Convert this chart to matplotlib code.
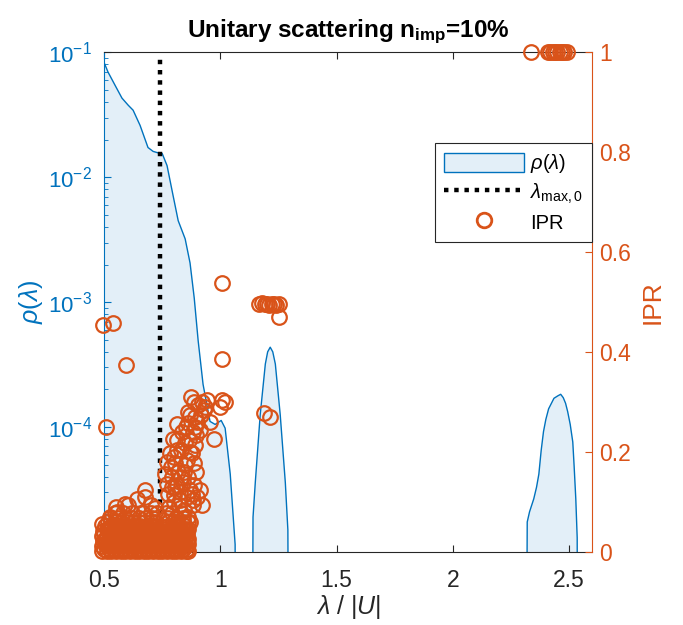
import numpy as np
import matplotlib
matplotlib.use('Agg')
from matplotlib import pyplot as plt
from matplotlib.patches import Patch
from matplotlib.lines import Line2D
from matplotlib.ticker import LogLocator, NullFormatter

# densidade de estados rho(lambda) (0 = fora da banda)
lam = [0.5, 0.516, 0.546, 0.576, 0.603, 0.624, 0.654, 0.688, 0.71, 0.73, 0.749,
       0.77, 0.796, 0.818, 0.848, 0.869, 0.887, 0.904, 0.925, 0.955, 0.977, 1.003,
       1.02, 1.042, 1.063, 1.068,
       1.131, 1.14, 1.15, 1.171, 1.193, 1.203, 1.214, 1.225, 1.236, 1.257, 1.279, 1.29, 1.30,
       2.309, 2.32, 2.33, 2.348, 2.36, 2.37, 2.38, 2.39, 2.40, 2.412, 2.435, 2.452, 2.464,
       2.475, 2.485, 2.494, 2.505, 2.516, 2.522, 2.529, 2.535, 2.54,
       2.6]
rho = [0.082, 0.0695, 0.0546, 0.043, 0.0377, 0.0344, 0.026, 0.0173, 0.0161, 0.0157, 0.0155,
       0.0124, 0.00713, 0.00449, 0.00321, 0.00206, 0.00108, 4.9e-4, 2.2e-4, 1.11e-4, 1.05e-4, 1.13e-4,
       9.8e-5, 4.2e-5, 1.15e-5, 0,
       0, 1.9e-5, 3.65e-5, 1.26e-4, 3.2e-4, 4.0e-4, 4.36e-4, 4.0e-4, 3.2e-4, 1.26e-4, 3.6e-5, 1.5e-5, 0,
       0, 1.74e-5, 2.1e-5, 2.66e-5, 3.3e-5, 4.2e-5, 6.5e-5, 9.2e-5, 1.15e-4, 1.4e-4, 1.7e-4, 1.78e-4, 1.83e-4,
       1.72e-4, 1.55e-4, 1.33e-4, 1.05e-4, 7.6e-5, 4.8e-5, 2.66e-5, 1.3e-5, 0,
       0]

lam_max0 = 0.741

# IPR: faixa densa perto de zero (uma linha de IPR por lista de lambdas)
bulk_ipr = [0.002, 0.007, 0.012, 0.017, 0.022, 0.027, 0.032, 0.037, 0.042, 0.047,
            0.053, 0.060, 0.068, 0.078]
bulk_lam = [
    [0.49, 0.51, 0.53, 0.55, 0.57, 0.59, 0.61, 0.63, 0.65, 0.67, 0.69, 0.71, 0.73, 0.75, 0.77, 0.79, 0.81, 0.83, 0.85, 0.862],
    [0.50, 0.52, 0.54, 0.56, 0.58, 0.60, 0.62, 0.64, 0.66, 0.68, 0.70, 0.72, 0.74, 0.76, 0.78, 0.80, 0.82, 0.84, 0.858],
    [0.492, 0.512, 0.532, 0.552, 0.571, 0.592, 0.611, 0.631, 0.652, 0.671, 0.692, 0.712, 0.731, 0.752, 0.771, 0.791, 0.812, 0.832, 0.851],
    [0.502, 0.522, 0.541, 0.562, 0.582, 0.601, 0.622, 0.641, 0.662, 0.681, 0.702, 0.721, 0.742, 0.761, 0.782, 0.802, 0.821, 0.842, 0.86],
    [0.495, 0.515, 0.535, 0.556, 0.575, 0.595, 0.615, 0.636, 0.655, 0.675, 0.696, 0.716, 0.735, 0.756, 0.776, 0.795, 0.816, 0.836, 0.855],
    [0.505, 0.526, 0.546, 0.565, 0.586, 0.606, 0.625, 0.646, 0.666, 0.686, 0.705, 0.726, 0.745, 0.766, 0.786, 0.806, 0.826, 0.846, 0.862],
    [0.49, 0.51, 0.531, 0.55, 0.57, 0.591, 0.61, 0.63, 0.651, 0.67, 0.69, 0.711, 0.73, 0.751, 0.77, 0.79, 0.811, 0.83, 0.85],
    [0.50, 0.521, 0.54, 0.56, 0.581, 0.60, 0.62, 0.641, 0.66, 0.68, 0.701, 0.72, 0.76, 0.781, 0.80, 0.82, 0.841, 0.858],
    [0.495, 0.515, 0.536, 0.555, 0.575, 0.596, 0.615, 0.635, 0.656, 0.675, 0.695, 0.716, 0.735, 0.771, 0.79, 0.81, 0.831, 0.85],
    [0.51, 0.53, 0.55, 0.57, 0.59, 0.61, 0.63, 0.65, 0.67, 0.69, 0.71, 0.725, 0.765, 0.785, 0.805, 0.825, 0.845, 0.862],
    [0.505, 0.53, 0.555, 0.58, 0.605, 0.63, 0.655, 0.68, 0.70, 0.72, 0.775, 0.80, 0.822, 0.847],
    [0.515, 0.545, 0.57, 0.60, 0.625, 0.65, 0.675, 0.70, 0.718, 0.772, 0.795, 0.815, 0.84, 0.86],
    [0.525, 0.56, 0.59, 0.62, 0.65, 0.68, 0.705, 0.775, 0.81, 0.84],
    [0.545, 0.58, 0.62, 0.665, 0.70, 0.725, 0.765, 0.79, 0.83],
]

# IPR: pontos isolados e faixa ascendente
ipr_lam = [0.496, 0.539, 0.594, 0.506, 1.006, 1.006,
           0.884, 0.941, 1.006, 1.02, 0.999, 0.905, 0.927, 0.869, 0.891, 0.956, 0.812,
           0.862, 0.891, 0.912, 0.97, 0.797, 0.848, 0.891, 0.877, 0.783, 0.812,
           0.769, 0.805, 0.848, 0.884, 0.762, 0.79, 0.819, 0.862, 0.769, 0.805, 0.84,
           0.776, 0.826, 0.877, 0.92, 0.883, 0.87, 0.675, 0.64, 0.589, 0.553, 0.525, 0.489,
           0.55, 0.60, 0.675, 0.70, 0.72, 0.78, 0.80, 0.82, 0.845, 0.86, 0.87,
           0.80, 0.815, 0.83, 0.845, 0.855, 0.87, 0.865, 0.88, 0.895, 0.90, 0.915, 0.92,
           0.935, 0.83, 0.815, 0.835, 0.85, 0.86, 0.875, 0.79, 0.785, 0.80, 0.825, 0.855,
           0.885, 0.895, 0.88, 0.90, 0.912,
           1.165, 1.18, 1.19, 1.20, 1.21, 1.22, 1.23, 1.24, 1.25, 1.25, 1.187, 1.214,
           2.335, 2.41, 2.42, 2.43, 2.44, 2.45, 2.46, 2.47, 2.48, 2.49]
ipr_val = [0.454, 0.459, 0.374, 0.251, 0.538, 0.386,
           0.30, 0.304, 0.304, 0.30, 0.29, 0.294, 0.284, 0.274, 0.271, 0.261, 0.256,
           0.258, 0.251, 0.244, 0.226, 0.226, 0.218, 0.214, 0.198, 0.198, 0.204,
           0.181, 0.178, 0.174, 0.178, 0.157, 0.151, 0.161, 0.151, 0.137, 0.131, 0.141,
           0.117, 0.121, 0.117, 0.094, 0.104, 0.124, 0.124, 0.107, 0.097, 0.081, 0.071, 0.057,
           0.09, 0.095, 0.11, 0.095, 0.088, 0.09, 0.10, 0.095, 0.085, 0.07, 0.06,
           0.115, 0.135, 0.15, 0.16, 0.185, 0.20, 0.225, 0.24, 0.235, 0.26, 0.275, 0.30,
           0.29, 0.205, 0.225, 0.24, 0.25, 0.28, 0.31, 0.13, 0.17, 0.19, 0.105, 0.11,
           0.135, 0.16, 0.095, 0.11, 0.125,
           0.497, 0.498, 0.496, 0.497, 0.495, 0.497, 0.496, 0.495, 0.497, 0.47, 0.278, 0.271,
           1.0, 1.0, 1.0, 1.0, 1.0, 1.0, 1.0, 1.0, 1.0, 1.0]

azul = '#0072BD'
laranja = '#D95319'
cinza = '#262626'
azul_claro = '#E3EFF8'

plt.rcParams['font.family'] = ['Liberation Sans', 'DejaVu Sans']
plt.rcParams['mathtext.fontset'] = 'custom'
plt.rcParams['mathtext.rm'] = 'Liberation Sans'
plt.rcParams['mathtext.it'] = 'Liberation Sans:italic'
plt.rcParams['mathtext.bf'] = 'Liberation Sans:bold'

fig = plt.figure(figsize=(6.83, 6.25), dpi=100)
ax = fig.add_axes([0.1527, 0.1168, 0.7145, 0.7995])
ax2 = ax.twinx()

lam_a = np.array(lam)
rho_a = np.array(rho)
rho_plot = np.where(rho_a > 0, rho_a, 1e-9)

ax.fill_between(lam_a, rho_plot, 1e-12, color=azul_claro, lw=0)
ax.plot(lam_a, rho_plot, color=azul, lw=1.0)
ax.plot([lam_max0, lam_max0], [2e-5, 0.088], color='black', lw=3.2,
        ls=(0, (1, 1.3)), dash_capstyle='butt')

ax.set_yscale('log')
ax.set_xlim(0.5, 2.6)
ax.set_ylim(1e-5, 1e-1)
ax.set_yticks([1e-4, 1e-3, 1e-2, 1e-1])
ax.yaxis.set_minor_locator(LogLocator(base=10, subs=np.arange(2, 10)))
ax.yaxis.set_minor_formatter(NullFormatter())
ax.set_xticks([0.5, 1, 1.5, 2, 2.5])
ax.set_xticklabels(['0.5', '1', '1.5', '2', '2.5'])

estilo = dict(ls='none', marker='o', mfc='none', mec=laranja, ms=10.5, mew=1.6, clip_on=False)
for linha, x_linha in zip(bulk_ipr, bulk_lam):
    ax2.plot(x_linha, [linha] * len(x_linha), **estilo)
ax2.plot(ipr_lam, ipr_val, **estilo)
ax2.set_ylim(0, 1)
ax2.set_yticks([0, 0.2, 0.4, 0.6, 0.8, 1])
ax2.set_yticklabels(['0', '0.2', '0.4', '0.6', '0.8', '1'])

ax.tick_params(which='both', direction='in', top=True, right=False)
ax.tick_params(which='major', length=5, width=0.8)
ax.tick_params(which='minor', length=3, width=0.6)
ax.tick_params(axis='y', which='both', colors=azul, pad=9, labelsize=16)
ax.tick_params(axis='x', colors=cinza, pad=12, labelsize=16.5)
ax2.tick_params(direction='in', length=5, width=0.8, colors=laranja, labelsize=16.5, pad=5)

for lado in ['top', 'bottom']:
    ax.spines[lado].set_color(cinza)
ax.spines['left'].set_color(azul)
ax.spines['right'].set_visible(False)
for lado in ['top', 'bottom', 'left']:
    ax2.spines[lado].set_visible(False)
ax2.spines['right'].set_color(laranja)

ax.set_xlabel(r'$\lambda$ / $|U|$', fontsize=18, color=cinza, labelpad=1)
ax.set_ylabel(r'$\rho(\lambda)$', fontsize=18, color=azul, labelpad=2)
ax2.set_ylabel('IPR', fontsize=19, color=laranja, labelpad=7)
ax.set_title(r'Unitary scattering n$_{\mathbf{imp}}$=10%', fontsize=17.5,
             fontweight='bold', pad=11)

handles = [Patch(facecolor=azul_claro, edgecolor=azul, lw=1.0),
           Line2D([], [], color='black', lw=3.2, ls=(0, (1, 1.3)), dash_capstyle='butt'),
           Line2D([], [], ls='none', marker='o', mfc='none', mec=laranja, ms=10.5, mew=2.0)]
leg = ax2.legend(handles, [r'$\rho(\lambda)$', r'$\lambda_{\rm max,0}$', 'IPR'],
                 loc='upper right', bbox_to_anchor=(1.0, 0.8185), fontsize=14.5,
                 frameon=True, fancybox=False, framealpha=1, edgecolor=cinza,
                 handlelength=4.0, handleheight=1.1, handletextpad=0.3,
                 borderaxespad=0, labelspacing=0.32, borderpad=0.45)
leg.get_frame().set_linewidth(0.8)

fig.savefig('out.png', dpi=100)
